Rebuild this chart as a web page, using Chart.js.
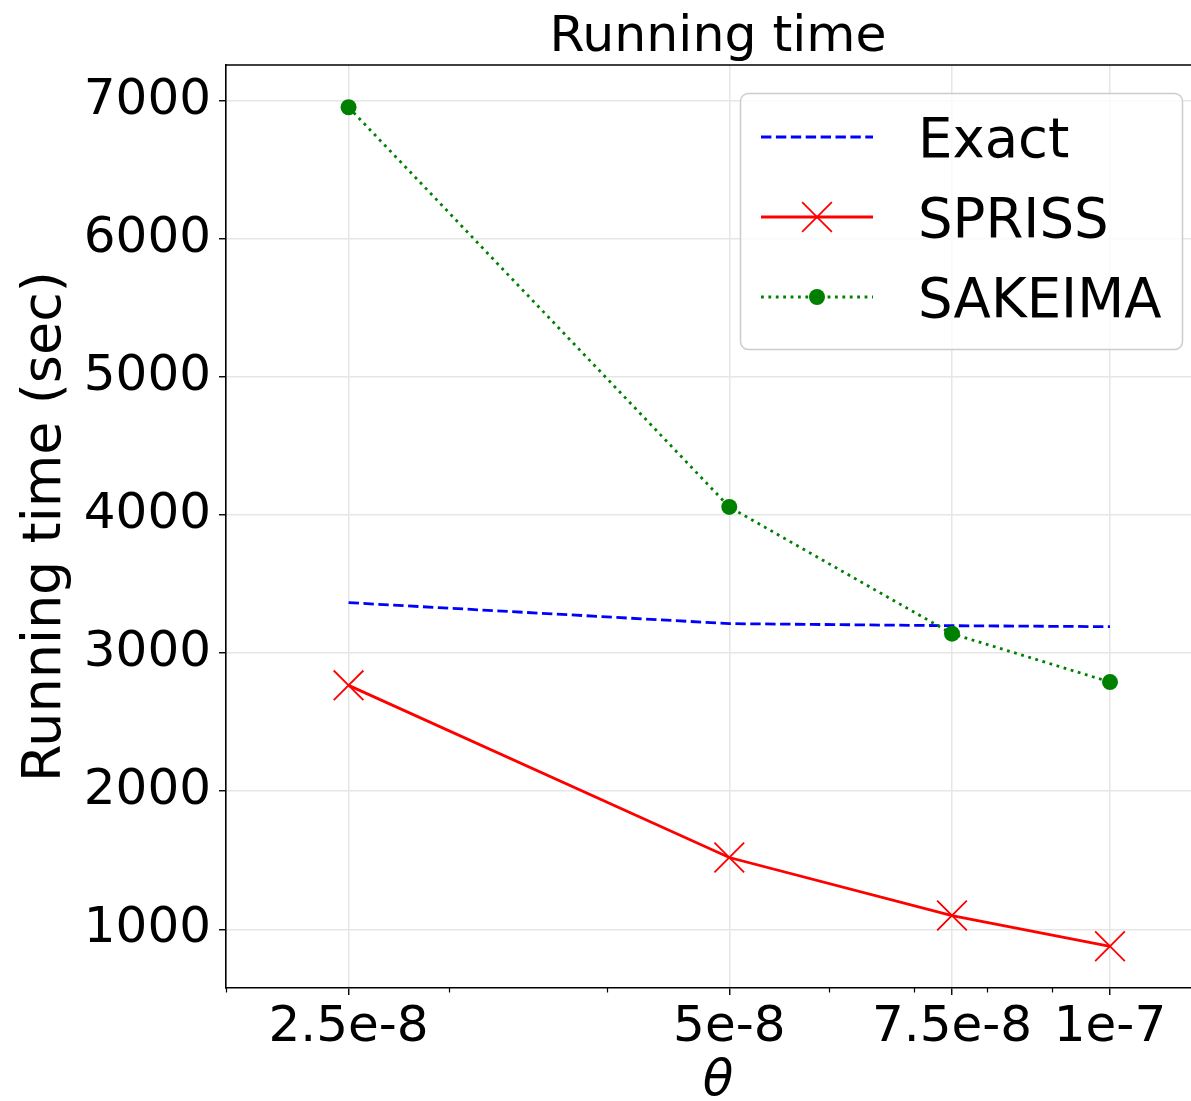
<!DOCTYPE html>
<html>
<head>
<meta charset="utf-8">
<script src="https://cdn.jsdelivr.net/npm/chart.js@4.4.0/dist/chart.umd.min.js"></script>
<style>
  html, body { margin: 0; padding: 0; background: #ffffff; overflow: hidden; }
  #wrap { width: 1191px; height: 1101px; }
  canvas { display: block; }
</style>
</head>
<body>
<div id="wrap"><canvas id="c" width="1191" height="1101"></canvas></div>
<script>
// ---------- data ----------
const thetaValues = [2.5e-8, 5e-8, 7.5e-8, 1e-7];
const xTickLabels = ['2.5e-8', '5e-8', '7.5e-8', '1e-7'];
const xMinorTicks = [2e-8, 3e-8, 4e-8, 6e-8, 7e-8, 8e-8, 9e-8];
const yTicks = [1000, 2000, 3000, 4000, 5000, 6000, 7000];
const seriesNames = ['Exact', 'SPRISS', 'SAKEIMA'];
const exactTimes = [3366, 3214, 3199, 3192];
const sprissTimes = [2767, 1520, 1100, 877];
const sakeimaTimes = [6954, 4059, 3141, 2791];
const chartTitle = 'Running time';
const xTitle = 'θ';
const yTitle = 'Running time (sec)';

// The original axes box extends past the right edge of the picture
// (to x = 1.2e-7); only the part up to the picture edge is visible.
const xMin = 2e-8;
const xVisibleMax = 1.1589e-7;
const xFullMax = 1.2e-7;

const FONT = "'DejaVu Sans', 'Liberation Sans', sans-serif";
const toPoints = arr => thetaValues.map((x, i) => ({ x: x, y: arr[i] }));

// center titles on the full (partly hidden) axes box
const centerPlugin = {
  id: 'centerTitles',
  afterLayout(chart) {
    const xs = chart.scales.x;
    const fullRight = xs.getPixelForValue(xFullMax);
    xs.right = fullRight;
    if (chart.titleBlock) {
      chart.titleBlock.left = chart.chartArea.left;
      chart.titleBlock.right = fullRight;
    }
  }
};

// top spine and minor x ticks
const framePlugin = {
  id: 'frame',
  afterDatasetsDraw(chart) {
    const { ctx, chartArea: a } = chart;
    ctx.save();
    ctx.strokeStyle = '#000';
    ctx.lineWidth = 1.6;
    ctx.beginPath();
    ctx.moveTo(a.left, a.top);
    ctx.lineTo(chart.width, a.top);
    ctx.stroke();
    const xs = chart.scales.x;
    ctx.lineWidth = 1.2;
    xMinorTicks.forEach(v => {
      const px = Math.round(xs.getPixelForValue(v)) + 0.5;
      ctx.beginPath();
      ctx.moveTo(px, a.bottom);
      ctx.lineTo(px, a.bottom + 4.5);
      ctx.stroke();
    });
    ctx.restore();
  }
};

// legend box drawn like matplotlib's
const legendPlugin = {
  id: 'boxLegend',
  afterDraw(chart) {
    const ctx = chart.ctx;
    const L = 740.5, T = 93.5, W = 442, H = 256, R = 8;
    ctx.save();
    ctx.beginPath();
    if (ctx.roundRect) ctx.roundRect(L, T, W, H, R); else ctx.rect(L, T, W, H);
    ctx.fillStyle = 'rgba(255,255,255,0.8)';
    ctx.fill();
    ctx.strokeStyle = '#cccccc';
    ctx.lineWidth = 1.5;
    ctx.stroke();
    chart.data.datasets.forEach((ds, i) => {
      const y = 137 + i * 80;
      ctx.beginPath();
      ctx.setLineDash(ds.borderDash || []);
      ctx.strokeStyle = ds.borderColor;
      ctx.lineWidth = ds.borderWidth;
      ctx.moveTo(761, y);
      ctx.lineTo(873, y);
      ctx.stroke();
      ctx.setLineDash([]);
      if (ds.pointRadius > 0) {
        ctx.fillStyle = ds.pointBackgroundColor;
        ctx.strokeStyle = ds.pointBorderColor;
        ctx.lineWidth = ds.pointBorderWidth;
        Chart.helpers.drawPoint(ctx, {
          pointStyle: ds.pointStyle, radius: ds.pointRadius,
          borderWidth: ds.pointBorderWidth, rotation: 0
        }, 817, y);
      }
      ctx.fillStyle = '#000';
      ctx.font = "54.5px " + FONT;
      ctx.textBaseline = 'alphabetic';
      ctx.textAlign = 'left';
      ctx.fillText(ds.label, 918, y + 20);
    });
    ctx.restore();
  }
};

new Chart(document.getElementById('c'), {
  type: 'line',
  data: {
    datasets: [
      {
        label: seriesNames[0], data: toPoints(exactTimes),
        borderColor: '#0000ff', backgroundColor: '#0000ff',
        borderWidth: 2.8, borderDash: [10.4, 4.5], borderCapStyle: 'butt',
        pointRadius: 0, pointHoverRadius: 0, tension: 0, order: 3
      },
      {
        label: seriesNames[1], data: toPoints(sprissTimes),
        borderColor: '#ff0000', backgroundColor: '#ff0000',
        borderWidth: 2.8, tension: 0,
        pointStyle: 'crossRot', pointRadius: 21, pointHoverRadius: 21,
        pointBorderColor: '#ff0000', pointBackgroundColor: '#ff0000', pointBorderWidth: 1.8,
        order: 2
      },
      {
        label: seriesNames[2], data: toPoints(sakeimaTimes),
        borderColor: '#008000', backgroundColor: '#008000',
        borderWidth: 2.8, borderDash: [2.8, 4.6], borderCapStyle: 'butt', tension: 0,
        pointStyle: 'circle', pointRadius: 8, pointHoverRadius: 8,
        pointBorderColor: '#008000', pointBackgroundColor: '#008000', pointBorderWidth: 0,
        order: 1
      }
    ]
  },
  options: {
    responsive: false,
    animation: false,
    events: [],
    devicePixelRatio: 1,
    layout: { padding: 0, autoPadding: false },
    plugins: {
      legend: { display: false },
      tooltip: { enabled: false },
      title: {
        display: true, text: chartTitle, fullSize: false, color: '#000',
        font: { family: FONT, size: 50.5, weight: 'normal', lineHeight: 1 },
        padding: { top: 13, bottom: 1.5 }
      }
    },
    scales: {
      x: {
        type: 'logarithmic', min: xMin, max: xVisibleMax,
        afterBuildTicks: s => { s.ticks = thetaValues.map(v => ({ value: v })); },
        afterFit: s => { s.height = 113; s.paddingLeft = 0; s.paddingRight = 0; },
        ticks: {
          autoSkip: false, maxRotation: 0, minRotation: 0, color: '#000', padding: 3,
          font: { family: FONT, size: 50 },
          callback: (v, i) => xTickLabels[i]
        },
        grid: { color: '#e6e6e6', lineWidth: 1.5, tickColor: '#000', tickLength: 7, tickWidth: 1.4 },
        border: { color: '#000', width: 1.6 },
        title: {
          display: true, text: xTitle, color: '#000',
          font: { family: FONT, size: 50, style: 'italic', lineHeight: 0.76 },
          padding: { top: 0, bottom: 0 }
        }
      },
      y: {
        type: 'linear', min: 575, max: 7260,
        afterBuildTicks: s => { s.ticks = yTicks.map(v => ({ value: v })); },
        afterFit: s => { s.width = 226; },
        ticks: {
          color: '#000', padding: 8,
          font: { family: FONT, size: 50 },
          callback: v => String(v)
        },
        grid: { color: '#e6e6e6', lineWidth: 1.5, tickColor: '#000', tickLength: 7, tickWidth: 1.4 },
        border: { color: '#000', width: 1.6 },
        title: {
          display: true, text: yTitle, color: '#000',
          font: { family: FONT, size: 54, lineHeight: 1 },
          padding: { top: 19, bottom: 0 }
        }
      }
    }
  },
  plugins: [centerPlugin, framePlugin, legendPlugin]
});
</script>
</body>
</html>
